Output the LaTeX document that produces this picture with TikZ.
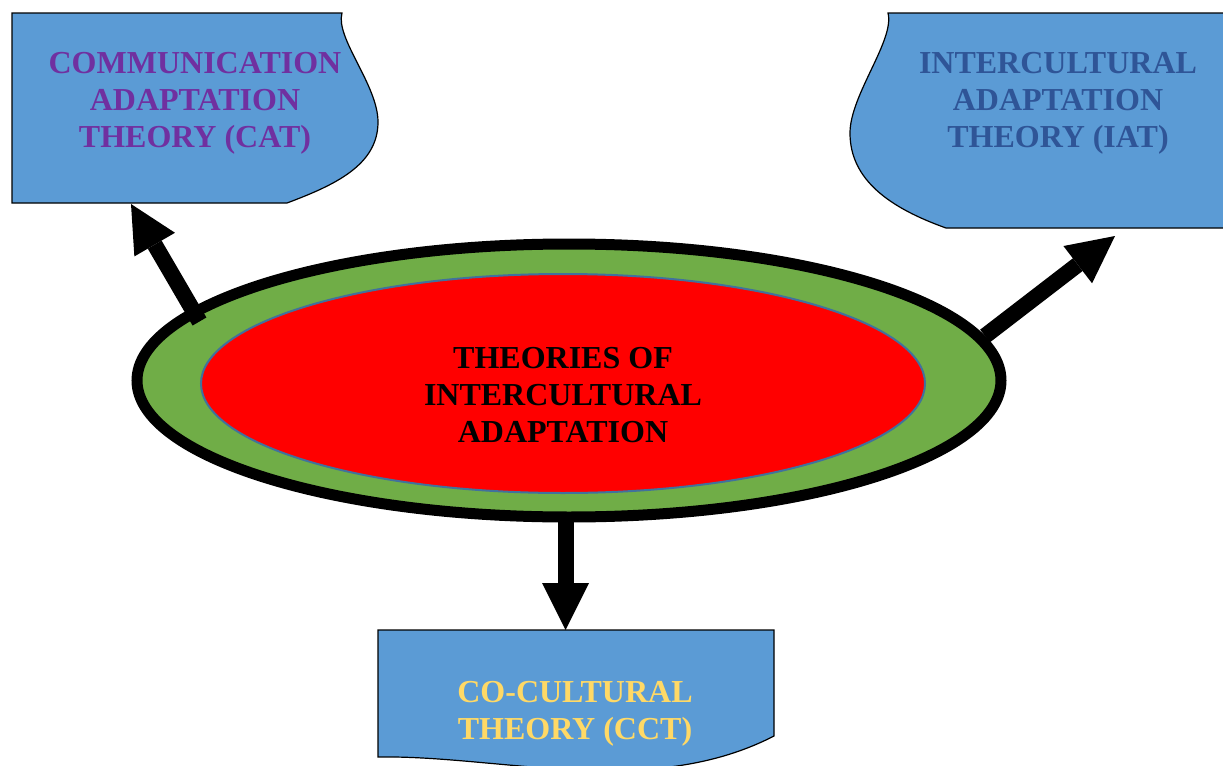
\documentclass[tikz,border=0pt]{standalone}
\usepackage{fontspec}
\setmainfont{Liberation Serif}
\usetikzlibrary{arrows.meta}
\definecolor{boxblue}{HTML}{5B9BD5}
\definecolor{ringgreen}{HTML}{70AD47}
\definecolor{coreborder}{HTML}{41719C}
\definecolor{catpurple}{HTML}{7030A0}
\definecolor{iatblue}{HTML}{2F5597}
\definecolor{cctgold}{HTML}{FFD966}

\begin{document}
\begin{tikzpicture}[x=0.5pt,y=-0.5pt,
  theorybox/.style={fill=boxblue, draw=black, line width=0.6pt},
  theorytext/.style={font=\fontsize{16}{18.5}\selectfont\bfseries, align=center, inner sep=0pt, anchor=north},
  blockarrow/.style={line width=8pt, -{Triangle[width=23.5pt,length=23.5pt,line width=0pt]}}
]
\useasboundingbox (0,0) rectangle (1223,766);
\clip (0,0) rectangle (1223,766);

% theory panels
\path[theorybox] (12,13) -- (342,13)
  .. controls (335,38) and (378,85) .. (378,122)
  .. controls (378,165) and (335,185) .. (287,203)
  -- (12,203) -- cycle;
\path[theorybox] (1240,13) -- (888,13)
  .. controls (895,40) and (850,95) .. (850,133)
  .. controls (850,180) and (890,208) .. (946,228)
  -- (1240,228) -- cycle;
\path[theorybox] (378,630) -- (774,630) -- (774,736)
  .. controls (650,800) and (500,755) .. (378,757) -- cycle;

% central ellipses
\draw[fill=ringgreen, line width=5.5pt] (569,380.5) ellipse [x radius=432, y radius=136.5];
\draw[fill=red, draw=coreborder, line width=1pt] (563,383.5) ellipse [x radius=362, y radius=109.5];

% labels
\node[theorytext, text=black] (core) at (563,347) {THEORIES OF\\INTERCULTURAL\\ADAPTATION};
\node[theorytext, text=catpurple] (cat) at (195,52) {COMMUNICATION\\ADAPTATION\\THEORY (CAT)};
\node[theorytext, text=iatblue] (iat) at (1058,52) {INTERCULTURAL\\ADAPTATION\\THEORY (IAT)};
\node[theorytext, text=cctgold] (cct) at (575,681) {CO-CULTURAL\\THEORY (CCT)};

% arrows out of the ellipse
\coordinate (catFoot) at (199.5,321.5);
\coordinate (catTip) at (131,204);
\coordinate (iatFoot) at (985,336);
\coordinate (iatTip) at (1115,236);
\coordinate (cctFoot) at (565.5,515);
\coordinate (cctTip) at (565.5,630);
\draw[blockarrow] (catFoot) -- (catTip);
\draw[blockarrow] (iatFoot) -- (iatTip);
\draw[blockarrow] (cctFoot) -- (cctTip);
\end{tikzpicture}
\end{document}
